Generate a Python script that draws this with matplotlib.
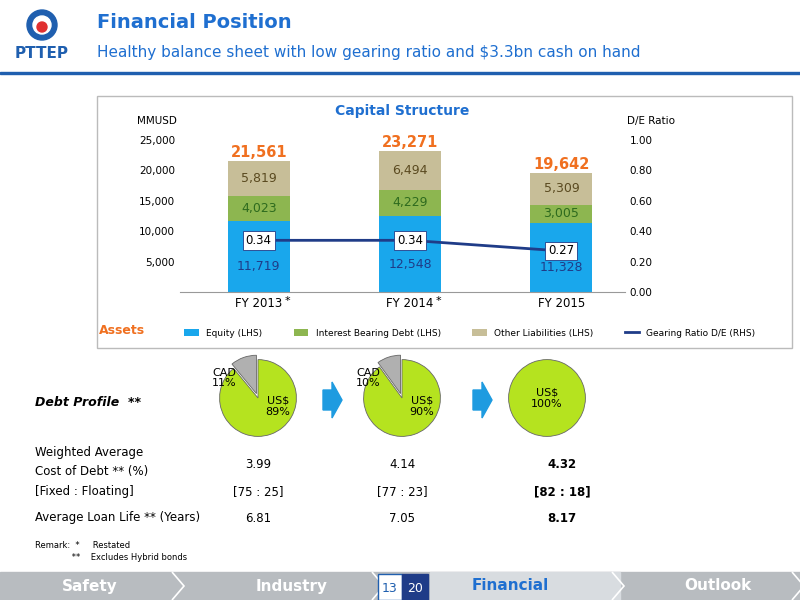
import matplotlib
matplotlib.use("Agg")
import matplotlib.pyplot as plt
from matplotlib.patches import Rectangle, Polygon, Circle

years = ["FY 2013", "FY 2014", "FY 2015"]
equity = [11719, 12548, 11328]
ibd = [4023, 4229, 3005]
other = [5819, 6494, 5309]
totals = [21561, 23271, 19642]
de_ratio = [0.34, 0.34, 0.27]
usd_share = [89, 90, 100]
cad_share = [11, 10, 0]
row_labels = ["Weighted Average\nCost of Debt ** (%)", "[Fixed : Floating]", "Average Loan Life ** (Years)"]
row_vals = [["3.99", "4.14", "4.32"], ["[75 : 25]", "[77 : 23]", "[82 : 18]"], ["6.81", "7.05", "8.17"]]

W, H = 800, 600
fig = plt.figure(figsize=(8, 6), dpi=100)
plt.rcParams['font.family'] = ['DejaVu Sans']

def fx(x): return x / W
def fy(y): return 1 - y / H

bg = fig.add_axes([0, 0, 1, 1]); bg.set_xlim(0, W); bg.set_ylim(H, 0); bg.axis('off')
# header
bg.add_patch(Rectangle((0, 72), W, 2, color='#1F5FAF'))
bg.add_patch(Circle((42, 25), 15, color='#1F5FAF'))
bg.add_patch(Circle((42, 25), 9, color='white'))
bg.add_patch(Circle((42, 27), 5, color='#E03030'))
bg.text(42, 54, "PTTEP", ha='center', va='center', color='#1F5FAF', fontsize=11, fontweight='bold')
bg.text(97, 22, "Financial Position", color='#1F6FD0', fontsize=14, fontweight='bold', va='center')
bg.text(97, 52, "Healthy balance sheet with low gearing ratio and $3.3bn cash on hand", color='#1F6FD0', fontsize=11, va='center')
# chart box
bg.add_patch(Rectangle((97, 96), 695, 252, fill=False, ec='#BBBBBB', lw=1))
bg.text(402, 111, "Capital Structure", color='#1F6FD0', fontsize=10, fontweight='bold', ha='center', va='center')
bg.text(137, 121, "MMUSD", fontsize=7.5, va='center')
bg.text(627, 121, "D/E Ratio", fontsize=7.5, va='center')
bg.text(99, 331, "Assets", color='#F07020', fontsize=9, fontweight='bold', va='center')

ax = fig.add_axes([fx(180), fy(292), fx(445), 152 / H])
x = [0, 1, 2]
bw = 0.41
c_eq, c_ibd, c_oth = '#19A7EC', '#8DB650', '#C7BE98'
ax.bar(x, equity, bw, color=c_eq, label='Equity (LHS)')
ax.bar(x, ibd, bw, bottom=equity, color=c_ibd, label='Interest Bearing Debt (LHS)')
b2 = [e + i for e, i in zip(equity, ibd)]
ax.bar(x, other, bw, bottom=b2, color=c_oth, label='Other Liabilities (LHS)')
for i in x:
    ax.text(i, equity[i] * 0.36, f"{equity[i]:,}", ha='center', va='center', color='#1F3C88', fontsize=9)
    ax.text(i, equity[i] + ibd[i] / 2, f"{ibd[i]:,}", ha='center', va='center', color='#2E6B1E', fontsize=9)
    ax.text(i, b2[i] + other[i] / 2, f"{other[i]:,}", ha='center', va='center', color='#5A4A20', fontsize=9)
    ax.text(i, totals[i] + 1400, f"{totals[i]:,}", ha='center', va='center', color='#F07020', fontsize=10.5, fontweight='bold')
ax.set_ylim(0, 25000); ax.set_xlim(-0.52, 2.42)
ax.set_yticks(range(5000, 25001, 5000))
ax.set_yticklabels([f"{v:,}" for v in range(5000, 25001, 5000)], fontsize=7.5)
ax.set_xticks(x); ax.set_xticklabels(years, fontsize=8.5)
for s in ['top', 'right', 'left']: ax.spines[s].set_visible(False)
ax.spines['bottom'].set_color('#999999')
ax.tick_params(length=0)
ax.text(0.17, -2000, "*", fontsize=8); ax.text(1.17, -2000, "*", fontsize=8)
ax2 = ax.twinx()
ax2.plot(x, de_ratio, color='#1F3C88', lw=2, label='Gearing Ratio D/E (RHS)')
for i in x:
    ax2.text(i, de_ratio[i], f"{de_ratio[i]:.2f}", ha='center', va='center', fontsize=8.5,
             bbox=dict(boxstyle='square,pad=0.25', fc='white', ec='#1F3C88', lw=0.6))
ax2.set_ylim(0, 1.0)
ax2.set_yticks([0, 0.2, 0.4, 0.6, 0.8, 1.0])
ax2.set_yticklabels([f"{v:.2f}" for v in [0, 0.2, 0.4, 0.6, 0.8, 1.0]], fontsize=7.5)
for s in ['top', 'right', 'left', 'bottom']: ax2.spines[s].set_visible(False)
ax2.tick_params(length=0)
h1, l1 = ax.get_legend_handles_labels(); h2, l2 = ax2.get_legend_handles_labels()
fig.legend(h1 + h2, l1 + l2, loc='center', bbox_to_anchor=(fx(470), fy(333)), ncol=4, fontsize=6.5,
           frameon=False, handlelength=1.6, columnspacing=3.5)

# pies
centers = [(258, 398), (402, 398), (547, 398)]
for i, (cx, cy) in enumerate(centers):
    pa = fig.add_axes([fx(cx - 48), fy(cy + 48), 96 / W, 96 / H])
    if cad_share[i]:
        vals = [cad_share[i], usd_share[i]]; cols = ['#B0B0B0', '#B5E31F']; expl = [0.12, 0]
    else:
        vals = [usd_share[i]]; cols = ['#B5E31F']; expl = [0]
    pa.pie(vals, colors=cols, explode=expl, startangle=90, counterclock=True,
           wedgeprops=dict(ec='#666666', lw=0.6))
    pa.set_aspect('equal'); pa.axis('off')

top = fig.add_axes([0, 0, 1, 1]); top.set_xlim(0, W); top.set_ylim(H, 0); top.axis('off')
top.patch.set_alpha(0)
top.text(35, 403, "Debt Profile  **", fontsize=9, fontweight='bold', fontstyle='italic', va='center')
for i, (cx, cy) in enumerate(centers):
    top.text(cx + 20 if cad_share[i] else cx, cy + 8 if cad_share[i] else cy, f"US$\n{usd_share[i]}%",
             ha='center', va='center', fontsize=8, linespacing=1.2)
    if cad_share[i]:
        top.text(cx - 34, cy - 20, f"CAD\n{cad_share[i]}%", ha='center', va='center', fontsize=8, linespacing=1.1)
for a_ in [330, 480]:
    top.add_patch(Polygon([(a_-7, 390), (a_+2, 390), (a_+2, 382), (a_+12, 400), (a_+2, 418), (a_+2, 410), (a_-7, 410)], color='#1E9BE0'))
ys = [462, 492, 518]
for r in range(3):
    top.text(35, ys[r], row_labels[r], fontsize=8.5, va='center', linespacing=1.6)
    for c, cx in enumerate([258, 402, 562]):
        top.text(cx, ys[r] + (2 if r == 0 else 0), row_vals[r][c], ha='center', va='center', fontsize=8.5,
                 fontweight='bold' if c == 2 else 'normal')
top.text(35, 546, "Remark:  *     Restated", fontsize=6, va='center')
top.text(35, 557, "              **    Excludes Hybrid bonds", fontsize=6, va='center')

# footer
top.add_patch(Rectangle((0, 572), W, 28, color='#B8BCC0'))
top.add_patch(Rectangle((430, 572), 190, 28, color='#D8DCE0'))
for a, b in [(0, 180), (180, 380), (430, 620), (620, 800)]:
    top.add_patch(Polygon([(b - 8, 572), (b + 4, 586), (b - 8, 600)], closed=False, fill=False, ec='white', lw=1.2))
for t, xx, col in [("Safety", 90, 'white'), ("Industry", 292, 'white'), ("Financial", 510, '#1F6FD0'), ("Outlook", 718, 'white')]:
    top.text(xx, 586, t, ha='center', va='center', fontsize=11, color=col, fontweight='bold')
top.add_patch(Rectangle((378, 574), 24, 26, color='white', ec='#1F5FAF'))
top.add_patch(Rectangle((402, 574), 26, 26, color='#1F3C88'))
top.text(390, 588, "13", ha='center', va='center', fontsize=9, color='#1F5FAF')
top.text(415, 588, "20", ha='center', va='center', fontsize=9, color='white')

fig.savefig("out.png", dpi=100)
